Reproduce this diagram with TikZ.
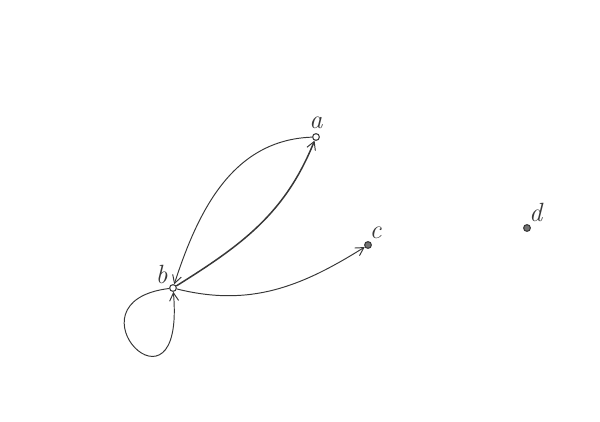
\documentclass[tikz,border=0pt]{standalone}
\usepackage{amsmath,amssymb}
\usepackage{xcolor}
\usetikzlibrary{arrows.meta,positioning,calc}

\definecolor{pencil}{RGB}{55,55,55}

\begin{document}
\begin{tikzpicture}[x=0.04cm,y=0.04cm,
    vertex/.style={circle,draw=pencil,fill=white,line width=1.2pt,
                   inner sep=0pt,minimum size=0.27cm},
    fullvertex/.style={vertex,fill=pencil!70},
    tag/.style={text=pencil,font=\fontsize{30}{34}\selectfont\itshape,inner sep=1pt},
    line/.style={draw=pencil,line width=1.1pt,
                 -{Straight Barb[length=3.2mm,width=3.6mm,line width=1.1pt]}}]
    \useasboundingbox (0,0) rectangle (600,421);
    \node[vertex,label={[tag,label distance=4pt]above:a}](a) at (316,284){};
    \node[vertex,label={[tag,label distance=2pt]140:b}](b) at (173,133){};
    \node[fullvertex,label={[tag,label distance=2pt]85:c}](c) at (368,176){};
    \node[fullvertex,label={[tag,label distance=2pt]78:d}](d) at (527,193){};
    \draw[line](a) to[out=182,in=72] (b);
    \draw[line,line width=1.7pt](b) to[out=32,in=248] (a);
    \draw[line](b) to[out=-14,in=212] (c);
    \draw[line](b) to[out=187,in=275,out distance=4.4cm,in distance=5.6cm] (b);
\end{tikzpicture}
\end{document}
